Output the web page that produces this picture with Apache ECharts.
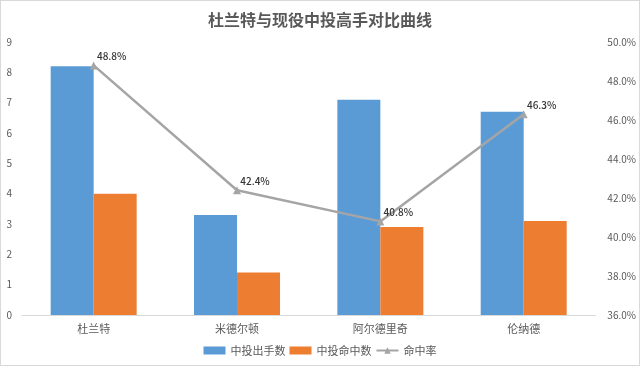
<!DOCTYPE html>
<html><head><meta charset="utf-8">
<script src="https://cdn.jsdelivr.net/npm/echarts@6/dist/echarts.min.js"></script>
<style>html,body{margin:0;padding:0;background:#fff}#c{width:638px;height:364px;border:1px solid #d9d9d9}</style>
</head><body><div id="c"></div>
<script>
const categories = ['杜兰特', '米德尔顿', '阿尔德里奇', '伦纳德'];
const attempts = [8.2, 3.3, 7.1, 6.7];
const makes = [4.0, 1.4, 2.9, 3.1];
const pct = [48.8, 42.4, 40.8, 46.3];
const leftTicks = [0, 9, 1];
const rightTicks = [36, 50, 2];

const chart = echarts.init(document.getElementById('c'));
const font = '"Noto Sans CJK SC", "Microsoft YaHei", sans-serif';
chart.setOption({
  animation: false,
  textStyle: {fontFamily: font},
  title: {text: '杜兰特与现役中投高手对比曲线', left: 'center', top: 6,
    textStyle: {fontSize: 16, fontWeight: 'bold', color: '#595959', fontFamily: font}},
  legend: {bottom: 4, left: 'center', itemWidth: 22, itemHeight: 8, itemGap: 4,
    textStyle: {fontSize: 11, color: '#595959'},
    data: [{name: '中投出手数', icon: 'rect'}, {name: '中投命中数', icon: 'rect'}, {name: '命中率'}]},
  grid: {left: 21, right: 42, top: 41, bottom: 50},
  xAxis: {type: 'category', data: categories,
    axisLine: {lineStyle: {color: '#d9d9d9'}}, axisTick: {show: false},
    axisLabel: {color: '#595959', fontSize: 11, margin: 8}},
  yAxis: [
    {type: 'value', min: leftTicks[0], max: leftTicks[1], interval: leftTicks[2],
      splitLine: {show: false}, axisLine: {show: false}, axisTick: {show: false},
      axisLabel: {color: '#595959', fontSize: 10, margin: 10}},
    {type: 'value', min: rightTicks[0], max: rightTicks[1], interval: rightTicks[2],
      splitLine: {show: false}, axisLine: {show: false}, axisTick: {show: false},
      axisLabel: {color: '#595959', fontSize: 10, margin: 12, formatter: v => v.toFixed(1) + '%'}}
  ],
  series: [
    {name: '中投出手数', type: 'bar', data: attempts, barGap: '0%', barCategoryGap: '40%',
      itemStyle: {color: '#5b9bd5'}},
    {name: '中投命中数', type: 'bar', data: makes, itemStyle: {color: '#ed7d31'}},
    {name: '命中率', type: 'line', yAxisIndex: 1, data: pct, symbol: 'triangle', symbolSize: 8,
      lineStyle: {color: '#a5a5a5', width: 2.5}, itemStyle: {color: '#a5a5a5'},
      label: {show: true, position: 'top', offset: [18, 5], fontSize: 10, fontWeight: 500, color: '#333333',
        formatter: p => p.value.toFixed(1) + '%'}}
  ]
});
</script></body></html>
